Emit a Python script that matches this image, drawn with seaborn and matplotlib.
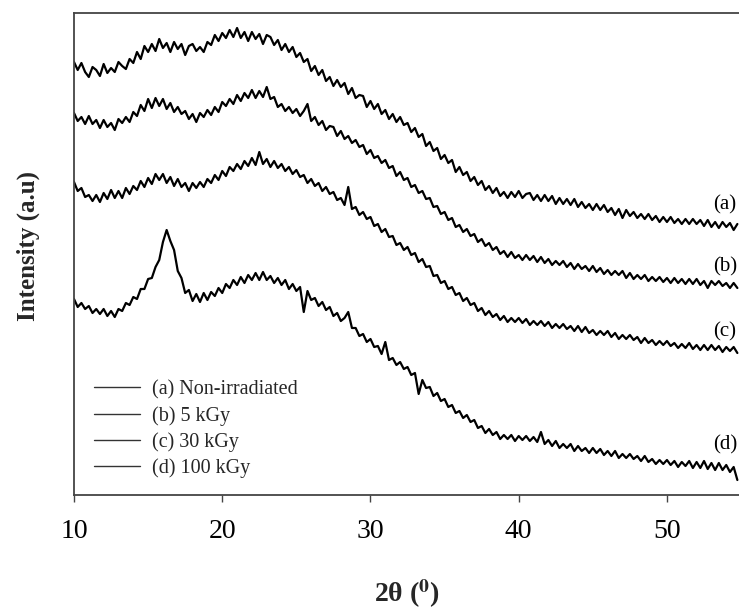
import numpy as np
import pandas as pd
import matplotlib
matplotlib.use("Agg")
import matplotlib.pyplot as plt
from matplotlib.lines import Line2D
import seaborn as sns

# ---- data (2theta from 10 deg in 0.25 deg steps; intensity in arbitrary units) ----
two_theta_start = 10.0
two_theta_step = 0.25

series_labels = ["(a) Non-irradiated", "(b) 5 kGy", "(c) 30 kGy", "(d) 100 kGy"]
curve_tags = ["(a)", "(b)", "(c)", "(d)"]

int_a = [433, 425, 432, 423, 418, 428, 425, 419, 431, 422, 427, 423, 433, 429, 426, 436,
         432, 443, 436, 449, 443, 451, 444, 456, 447, 452, 443, 453, 446, 451, 440, 449,
         451, 444, 448, 443, 453, 450, 460, 454, 462, 457, 465, 458, 467, 457, 463, 454,
         463, 456, 461, 451, 460, 458, 450, 455, 445, 451, 443, 448, 438, 442, 433, 436,
         424, 429, 420, 425, 414, 418, 409, 415, 408, 412, 401, 407, 397, 400, 399, 388,
         394, 386, 391, 381, 385, 376, 381, 373, 378, 370, 372, 363, 367, 358, 361, 349,
         353, 344, 347, 336, 340, 332, 335, 323, 328, 320, 323, 314, 318, 310, 314, 305,
         309, 302, 307, 299, 303, 297, 303, 298, 304, 297, 301, 302, 295, 300, 294, 300,
         294, 299, 291, 297, 291, 296, 290, 296, 288, 293, 287, 291, 285, 291, 285, 290,
         283, 287, 280, 286, 277, 285, 279, 283, 277, 281, 276, 281, 275, 279, 273, 278,
         273, 278, 272, 276, 271, 276, 271, 276, 271, 275, 269, 275, 268, 273, 267, 273,
         268, 272, 265, 271]

int_b = [382, 374, 378, 371, 379, 371, 375, 367, 375, 368, 372, 365, 376, 372, 378, 373,
         383, 379, 390, 384, 396, 387, 397, 389, 396, 386, 392, 383, 388, 381, 384, 376,
         381, 373, 382, 378, 385, 380, 388, 383, 393, 389, 396, 391, 400, 394, 402, 397,
         405, 397, 404, 398, 408, 396, 398, 388, 391, 384, 388, 382, 386, 379, 384, 391,
         374, 378, 370, 374, 365, 369, 368, 359, 364, 356, 359, 352, 355, 348, 350, 341,
         345, 337, 339, 332, 335, 327, 329, 319, 323, 315, 317, 308, 310, 302, 304, 296,
         297, 288, 289, 281, 283, 275, 277, 268, 270, 263, 266, 259, 261, 253, 256, 249,
         252, 245, 248, 241, 244, 238, 243, 237, 240, 235, 240, 235, 239, 233, 238, 232,
         236, 230, 234, 230, 234, 228, 232, 226, 231, 226, 229, 224, 229, 223, 227, 221,
         225, 220, 224, 220, 224, 217, 222, 216, 220, 216, 220, 214, 218, 214, 218, 213,
         217, 212, 217, 212, 216, 211, 216, 211, 216, 210, 214, 207, 214, 210, 214, 209,
         212, 207, 212, 207]

int_c = [313, 304, 307, 298, 300, 294, 300, 293, 302, 296, 305, 297, 304, 297, 307, 301,
         309, 305, 314, 308, 317, 311, 321, 315, 321, 312, 318, 309, 316, 308, 312, 304,
         312, 307, 313, 308, 316, 312, 320, 315, 324, 319, 328, 324, 331, 326, 334, 329,
         337, 330, 343, 331, 336, 328, 334, 327, 331, 324, 328, 321, 325, 318, 320, 312,
         316, 309, 312, 304, 308, 301, 303, 295, 297, 290, 308, 286, 288, 280, 283, 276,
         278, 269, 271, 263, 266, 258, 259, 250, 252, 245, 248, 240, 242, 233, 236, 228,
         229, 219, 220, 212, 214, 206, 208, 200, 202, 194, 197, 190, 192, 184, 187, 180,
         184, 178, 181, 175, 179, 173, 177, 173, 177, 172, 176, 170, 174, 170, 174, 169,
         173, 167, 171, 167, 171, 166, 169, 164, 169, 163, 168, 162, 165, 160, 164, 160,
         164, 158, 162, 156, 160, 156, 160, 155, 158, 152, 157, 152, 155, 150, 154, 150,
         154, 149, 152, 147, 151, 147, 152, 146, 150, 145, 150, 145, 150, 145, 149, 143,
         148, 144, 148, 142]

int_d = [196, 188, 192, 186, 189, 182, 186, 181, 186, 179, 184, 178, 186, 184, 192, 190,
         198, 196, 206, 206, 216, 217, 228, 235, 253, 265, 254, 245, 224, 217, 202, 205,
         194, 201, 193, 202, 195, 203, 199, 207, 202, 211, 207, 215, 210, 218, 212, 220,
         215, 222, 215, 223, 215, 219, 212, 217, 210, 215, 206, 211, 204, 208, 183, 204,
         195, 197, 189, 193, 185, 188, 179, 182, 174, 177, 183, 167, 167, 159, 161, 153,
         156, 148, 149, 141, 153, 135, 137, 130, 133, 126, 128, 120, 122, 101, 115, 107,
         108, 99, 102, 94, 96, 88, 90, 82, 84, 77, 80, 73, 75, 67, 69, 62,
         66, 60, 63, 56, 60, 56, 60, 54, 59, 55, 59, 54, 58, 53, 63, 51,
         55, 49, 54, 47, 51, 47, 51, 44, 49, 44, 47, 42, 47, 42, 46, 40,
         44, 39, 44, 37, 41, 37, 41, 36, 39, 34, 39, 33, 36, 31, 35, 31,
         35, 30, 34, 28, 33, 29, 34, 27, 33, 27, 34, 26, 32, 25, 32, 25,
         30, 23, 28, 15]

x_ticks = [10, 20, 30, 40, 50]
x_tick_labels = ["10", "20", "30", "40", "50"]

# ---- build long-form table ----
frames = []
for lab, vals in zip(series_labels, [int_a, int_b, int_c, int_d]):
    n = len(vals)
    frames.append(pd.DataFrame({
        "two_theta": two_theta_start + two_theta_step * np.arange(n),
        "intensity": vals,
        "sample": lab,
    }))
df = pd.concat(frames, ignore_index=True)

# ---- style ----
sns.set_theme(style="white")
plt.rcParams["font.family"] = ["Liberation Serif", "DejaVu Serif"]
plt.rcParams["mathtext.fontset"] = "stix"

fig = plt.figure(figsize=(7.39, 6.15), dpi=100)
ax = fig.add_axes([74 / 739, 1 - 495 / 615, 1 - 74 / 739, (495 - 13) / 615])

sns.lineplot(data=df, x="two_theta", y="intensity", hue="sample",
             palette=["black"] * 4, estimator=None, sort=False,
             linewidth=1.6, legend=False, ax=ax)

ax.set_xlim(10, 54.86)
ax.set_ylim(0, 482)
ax.set_xticks(x_ticks)
ax.set_xticklabels(x_tick_labels)
ax.set_yticks([])
ax.tick_params(axis="x", direction="out", length=5, width=1.0, pad=12,
               labelsize=20, colors="#444444", labelcolor="black", bottom=True)
for side in ["left", "bottom", "top"]:
    ax.spines[side].set_color("#444444")
    ax.spines[side].set_linewidth(1.3)
ax.spines["right"].set_visible(False)

ax.set_xlabel(r"2θ ($^{\mathbf{0}}$)", fontsize=20, fontweight="bold")
ax.xaxis.set_label_coords((407 - 74) / 665, (495 - 577) / 482)
ax.set_ylabel("Intensity (a.u)", fontsize=18, fontweight="bold")
ax.yaxis.set_label_coords((40 - 74) / 665, (495 - 246) / 482)

# right-side curve tags
tag_y = [290, 228, 163, 50]
for t, yy in zip(curve_tags, tag_y):
    ax.text(53.1, yy, t, fontsize=15, ha="left", va="center", color="black")

# legend
handles = [Line2D([0], [0], color="#333333", lw=1.0) for _ in series_labels]
leg = ax.legend(handles, series_labels, loc="lower left",
                bbox_to_anchor=(12 / 665, 9 / 482),
                frameon=False, fontsize=14.5, handlelength=2.3, handletextpad=0.6,
                labelspacing=0.32, borderaxespad=0.0)

fig.savefig("out.png", dpi=100)
